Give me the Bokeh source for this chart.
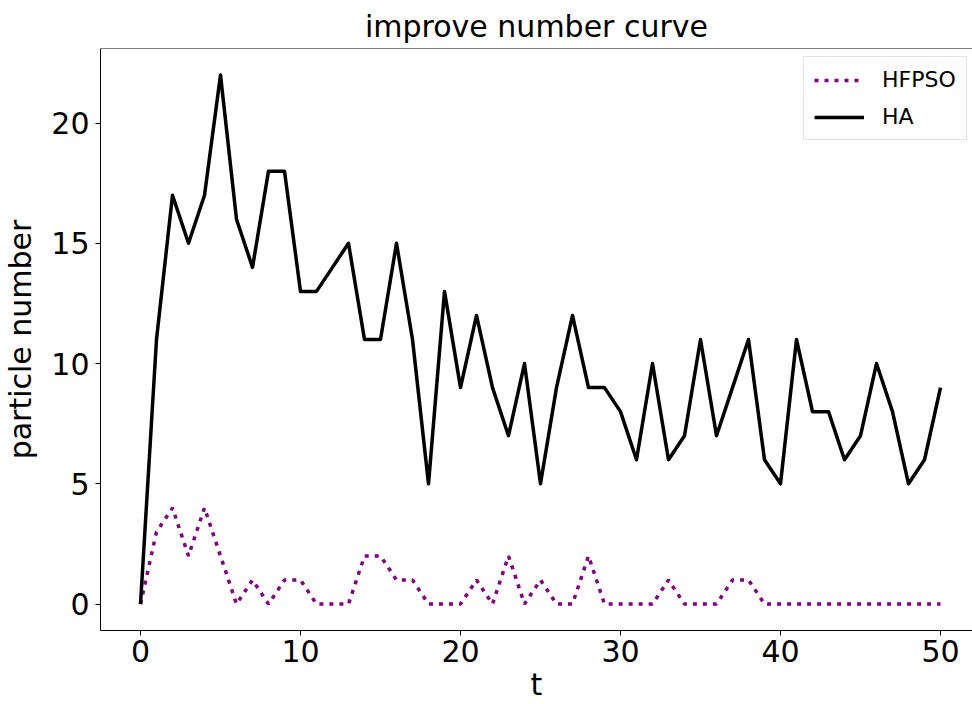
from bokeh.plotting import figure
from bokeh.models import Range1d, Legend, LegendItem, Span
from bokeh.embed import file_html
from bokeh.resources import INLINE

# iteration index
t = list(range(51))

# number of improved particles per iteration
ha = [0, 11, 17, 15, 17, 22, 16, 14, 18, 18,
      13, 13, 14, 15, 11, 11, 15, 11, 5, 13,
      9, 12, 9, 7, 10, 5, 9, 12, 9, 9,
      8, 6, 10, 6, 7, 11, 7, 9, 11, 6,
      5, 11, 8, 8, 6, 7, 10, 8, 5, 6, 9]

hfpso = [0, 3, 4, 2, 4, 2, 0, 1, 0, 1,
         1, 0, 0, 0, 2, 2, 1, 1, 0, 0,
         0, 1, 0, 2, 0, 1, 0, 0, 2, 0,
         0, 0, 0, 1, 0, 0, 0, 1, 1, 0,
         0, 0, 0, 0, 0, 0, 0, 0, 0, 0, 0]

x_ticks = [0, 10, 20, 30, 40, 50]
y_ticks = [0, 5, 10, 15, 20]

FONT = "DejaVu Sans"

p = figure(width=972, height=704, output_backend="svg", toolbar_location=None,
           x_range=Range1d(-2.5, 52.0), y_range=Range1d(-1.1, 23.1),
           min_border_left=100, min_border_right=0,
           min_border_top=48, min_border_bottom=72)

p.background_fill_color = "white"
p.border_fill_color = "white"
p.outline_line_color = None
p.xgrid.visible = False
p.ygrid.visible = False

p.title.text = "improve number curve"
p.title.align = "center"
p.title.text_font = FONT
p.title.text_font_size = "30px"
p.title.text_font_style = "normal"
p.title.text_color = "black"

for ax in (p.xaxis[0], p.yaxis[0]):
    ax.axis_line_color = "black"
    ax.axis_line_width = 1
    ax.major_tick_line_color = "black"
    ax.major_tick_in = 0
    ax.major_tick_out = 5
    ax.minor_tick_line_color = None
    ax.major_label_text_font = FONT
    ax.major_label_text_font_size = "30px"
    ax.major_label_text_color = "black"
    ax.axis_label_text_font = FONT
    ax.axis_label_text_font_size = "30px"
    ax.axis_label_text_font_style = "normal"
    ax.axis_label_text_color = "black"

p.xaxis.ticker = x_ticks
p.yaxis.ticker = y_ticks
p.xaxis.axis_label = "t"
p.yaxis.axis_label = "particle number"
p.xaxis.major_label_standoff = 4
p.xaxis.axis_label_standoff = 2
p.yaxis.major_label_standoff = 6
p.yaxis.axis_label_standoff = 10

# top spine of the frame
p.add_layout(Span(location=23.1, dimension="width", line_color="black", line_width=1))

r_hfpso = p.line(t, hfpso, line_color="purple", line_width=3.5, line_dash="4 6")
r_ha = p.line(t, ha, line_color="black", line_width=3.5, line_join="round")

legend = Legend(items=[LegendItem(label="HFPSO", renderers=[r_hfpso]),
                       LegendItem(label="HA", renderers=[r_ha])],
                location=(703, 490))
legend.label_text_font = FONT
legend.label_text_font_size = "22px"
legend.label_text_color = "black"
legend.glyph_width = 50
legend.glyph_height = 22
legend.label_height = 22
legend.label_standoff = 18
legend.spacing = 12
legend.padding = 10
legend.margin = 0
legend.border_line_color = "#cccccc"
legend.border_line_width = 1
legend.background_fill_color = "white"
legend.background_fill_alpha = 0.8
p.add_layout(legend)

open("out.html", "w").write(file_html(p, INLINE))
